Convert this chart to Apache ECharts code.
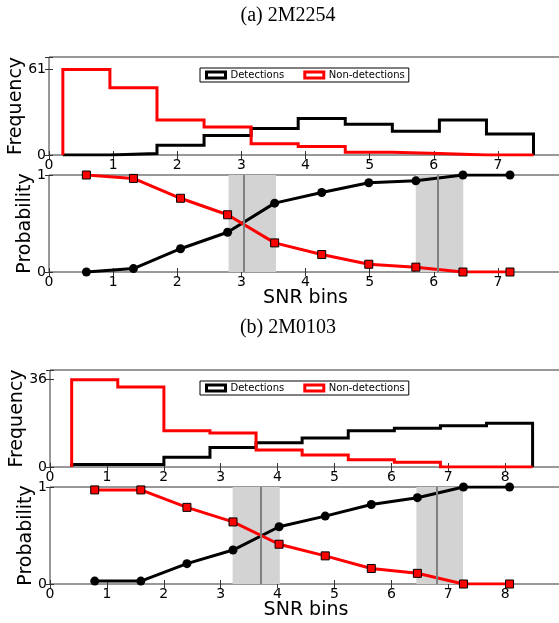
<!DOCTYPE html>
<html>
<head>
<meta charset="utf-8">
<script src="https://cdn.jsdelivr.net/npm/echarts@6/dist/echarts.min.js"></script>
<style>
  html, body { margin: 0; padding: 0; background: #fff; }
  #chart { width: 559px; height: 623px; }
</style>
</head>
<body>
<div id="chart"></div>
<script>
// (a) 2M2254
const edgesA = [0.216, 0.95, 1.684, 2.418, 3.152, 3.886, 4.62, 5.354, 6.088, 6.822, 7.556]
const detCountsA = [0, 1, 7, 14, 19, 26, 22, 17, 25, 15]
const nonCountsA = [61, 48, 25, 20, 8, 6, 2, 1, 0, 0]
const centersA = [0.583, 1.317, 2.051, 2.785, 3.519, 4.253, 4.987, 5.721, 6.455, 7.189]
const detProbA = [0, 0.035, 0.24, 0.41, 0.71, 0.82, 0.92, 0.94, 1, 1]
const nonProbA = [1, 0.965, 0.76, 0.59, 0.3, 0.18, 0.08, 0.05, 0, 0]
const bandsA = [[2.8, 3.54], [5.72, 6.46]]
const linesA = [3.03, 6.06]

// (b) 2M0103
const edgesB = [0.381, 1.191, 2.002, 2.812, 3.622, 4.432, 5.243, 6.053, 6.863, 7.673, 8.483]
const detCountsB = [1, 1, 4, 8, 10, 12, 15, 16, 17, 18]
const nonCountsB = [36, 33, 15, 14, 7, 5, 3, 2, 0, 0]
const centersB = [0.786, 1.597, 2.407, 3.217, 4.027, 4.838, 5.648, 6.458, 7.268, 8.078]
const detProbB = [0.03, 0.03, 0.21, 0.35, 0.59, 0.7, 0.82, 0.89, 1, 1]
const nonProbB = [0.97, 0.97, 0.79, 0.64, 0.41, 0.29, 0.16, 0.11, 0, 0]
const bandsB = [[3.21, 4.04], [6.44, 7.26]]
const linesB = [3.7, 6.8]

const FONT = 'DejaVu Sans'

// histogram outline (matplotlib histtype='step')
const stepPath = (edges, counts) => {
    const pts = [[edges[0], 0]]
    counts.forEach((c, i) => {
        pts.push([edges[i], c], [edges[i + 1], c])
    })
    pts.push([edges[edges.length - 1], 0])
    return pts
}

const pairs = (xs, ys) => xs.map((x, i) => [x, ys[i]])

const grids = [
    { left: 49, right: -3, top: 57, height: 98 },
    { left: 49, right: -3, top: 175, height: 97 },
    { left: 50, right: -3, top: 370, height: 97 },
    { left: 50, right: -3, top: 487, height: 97 },
].map((g) => ({
    ...g, show: true, borderColor: '#333', borderWidth: 1, backgroundColor: 'transparent',
    containLabel: false, outerBoundsMode: 'none',
}))

const tick = { inside: true, length: 4, lineStyle: { color: '#333' } }

const xAxes = []
const yAxes = []

// one panel = bottom/top x axes + left/right y axes
const addAxes = (gi, xMax, yMax, yInterval, yLabels, yName, yGap, xName) => {
    xAxes.push({
        type: 'value', gridIndex: gi, min: 0, max: xMax, interval: 1,
        axisLine: { show: false }, axisTick: tick, splitLine: { show: false },
        axisLabel: { fontSize: 14, color: '#000', fontFamily: FONT, margin: 3, showMaxLabel: false },
        name: xName, nameLocation: 'middle', nameGap: 17, nameMoveOverlap: false,
        nameTextStyle: { fontSize: 19, color: '#000', fontFamily: FONT },
    })
    xAxes.push({
        type: 'value', gridIndex: gi, position: 'top', min: 0, max: xMax, interval: 1,
        axisLine: { show: false }, axisTick: tick, splitLine: { show: false }, axisLabel: { show: false },
    })
    yAxes.push({
        type: 'value', gridIndex: gi, min: 0, max: yMax, interval: yInterval,
        axisLine: { show: false }, axisTick: tick, splitLine: { show: false },
        axisLabel: {
            fontSize: 14, color: '#000', fontFamily: FONT, margin: 3,
            formatter: (v) => (yLabels.includes(v) ? String(v) : ''),
        },
        name: yName, nameLocation: 'middle', nameRotate: 90, nameGap: yGap, nameMoveOverlap: false,
        nameTextStyle: { fontSize: 19, color: '#000', fontFamily: FONT },
    })
    yAxes.push({
        type: 'value', gridIndex: gi, position: 'right', min: 0, max: yMax, interval: yInterval,
        axisLine: { show: false }, axisTick: tick, splitLine: { show: false }, axisLabel: { show: false },
    })
}

addAxes(0, 8, 70, 61, [0, 61], 'Frequency', 23, '')
addAxes(1, 8, 1, 1, [0, 1], 'Probability', 14, 'SNR bins')
addAxes(2, 9, 40, 36, [0, 36], 'Frequency', 23, '')
addAxes(3, 9, 1, 1, [0, 1], 'Probability', 14, 'SNR bins')

const series = []

const addPanel = (gi, edges, det, non, centers, pDet, pNon, bands, lines) => {
    const fx = gi * 2
    const px = (gi + 1) * 2
    series.push({
        name: 'Detections', type: 'line', xAxisIndex: fx, yAxisIndex: fx,
        data: stepPath(edges, det), symbol: 'none', z: 3,
        lineStyle: { color: '#000', width: 3, join: 'miter' }, itemStyle: { color: '#000' },
    })
    series.push({
        name: 'Non-detections', type: 'line', xAxisIndex: fx, yAxisIndex: fx,
        data: stepPath(edges, non), symbol: 'none', z: 4,
        lineStyle: { color: '#ff0000', width: 3, join: 'miter' }, itemStyle: { color: '#ff0000' },
    })
    // shaded ranges and their centre lines
    series.push({
        name: 'ranges', type: 'line', xAxisIndex: px, yAxisIndex: px, data: [], z: 1,
        markArea: {
            silent: true,
            itemStyle: { color: '#d3d3d3' },
            data: bands.map((b) => [{ xAxis: b[0] }, { xAxis: b[1] }]),
        },
        markLine: {
            silent: true, symbol: ['none', 'none'], label: { show: false },
            lineStyle: { color: '#808080', width: 2, type: 'solid' },
            data: lines.map((v) => ({ xAxis: v })),
        },
    })
    series.push({
        name: 'P(det)', type: 'line', xAxisIndex: px, yAxisIndex: px,
        data: pairs(centers, pDet), symbol: 'circle', symbolSize: 9, z: 3,
        lineStyle: { color: '#000', width: 3 }, itemStyle: { color: '#000' },
    })
    series.push({
        name: 'P(non)', type: 'line', xAxisIndex: px, yAxisIndex: px,
        data: pairs(centers, pNon), symbol: 'rect', symbolSize: 8, z: 4,
        lineStyle: { color: '#ff0000', width: 3 },
        itemStyle: { color: '#ff0000', borderColor: '#000', borderWidth: 1 },
    })
}

addPanel(0, edgesA, detCountsA, nonCountsA, centersA, detProbA, nonProbA, bandsA, linesA)
addPanel(2, edgesB, detCountsB, nonCountsB, centersB, detProbB, nonProbB, bandsB, linesB)

const legendItems = [
    { name: 'Detections', itemStyle: { color: '#fff', borderColor: '#000', borderWidth: 3 } },
    { name: 'Non-detections', itemStyle: { color: '#fff', borderColor: '#ff0000', borderWidth: 3 } },
]
const makeLegend = (top) => ({
    left: 200, top, icon: 'rect', itemWidth: 19, itemHeight: 6, itemGap: 19,
    padding: [2, 4, 2, 5], borderColor: '#000', borderWidth: 1, borderRadius: 0,
    selectedMode: false, data: legendItems,
    textStyle: { fontSize: 10, color: '#000', fontFamily: FONT },
})

const chart = echarts.init(document.getElementById('chart'))
chart.setOption({
    animation: false,
    grid: grids,
    xAxis: xAxes,
    yAxis: yAxes,
    legend: [makeLegend(68), makeLegend(381)],
    graphic: [
        { type: 'text', x: 288, y: 16, style: { text: '(a) 2M2254', font: '20px "Liberation Serif"', fill: '#000', align: 'center', verticalAlign: 'middle' } },
        { type: 'text', x: 288, y: 328, style: { text: '(b) 2M0103', font: '20px "Liberation Serif"', fill: '#000', align: 'center', verticalAlign: 'middle' } },
    ],
    series,
})
</script>
</body>
</html>
